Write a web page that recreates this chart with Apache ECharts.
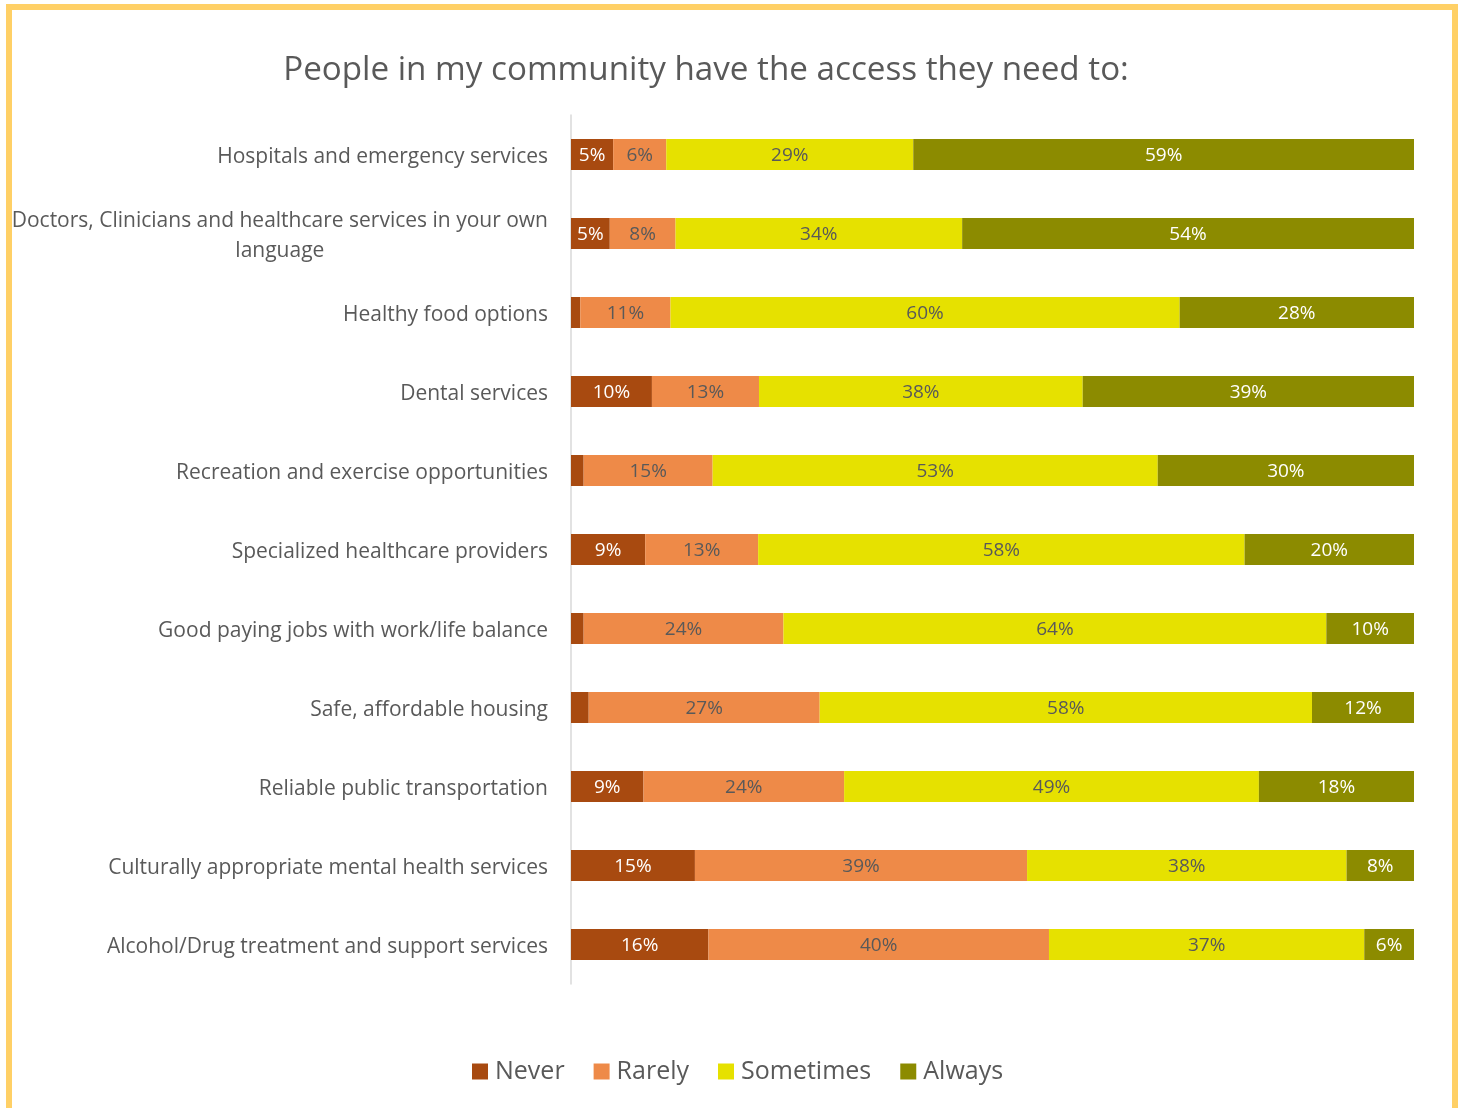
<!DOCTYPE html>
<html>
<head>
<meta charset="utf-8">
<title>People in my community have the access they need to</title>
<script src="https://cdn.jsdelivr.net/npm/echarts@6/dist/echarts.min.js"></script>
<style>
  html, body { margin: 0; padding: 0; background: #ffffff; }
  #chart { position: absolute; left: 0; top: 0; width: 1461px; height: 1108px; }
  #frame {
    position: absolute; left: 6px; top: 4px; width: 1440px; height: 1120px;
    border: 6px solid #FFD066; border-bottom: none; pointer-events: none;
  }
</style>
</head>
<body>
<div id="chart"></div>
<div id="frame"></div>
<script>
// Survey items, top to bottom
const categories = [
  'Hospitals and emergency services',
  'Doctors, Clinicians and healthcare services in your own\nlanguage',
  'Healthy food options',
  'Dental services',
  'Recreation and exercise opportunities',
  'Specialized healthcare providers',
  'Good paying jobs with work/life balance',
  'Safe, affordable housing',
  'Reliable public transportation',
  'Culturally appropriate mental health services',
  'Alcohol/Drug treatment and support services'
];

// Share of responses (%) per item
const never     = [5.0, 4.6, 1.1,  9.6,  1.5,  8.8,  1.5,  2.1,  8.6, 14.7, 16.3];
const rarely    = [6.3, 7.8, 10.7, 12.7, 15.3, 13.4, 23.7, 27.4, 23.8, 39.4, 40.4];
const sometimes = [29.3, 34.0, 60.4, 38.4, 52.8, 57.7, 64.4, 58.4, 49.2, 37.9, 37.4];
const always    = [59.4, 53.6, 27.8, 39.3, 30.4, 20.1, 10.4, 12.1, 18.4, 8.0, 5.9];

const seriesNames = ['Never', 'Rarely', 'Sometimes', 'Always'];
const seriesData = [never, rarely, sometimes, always];
const seriesColors = ['#A84A10', '#EE8A48', '#E6E100', '#8C8B00'];
const labelColors = ['#ffffff', '#595959', '#595959', '#ffffff'];

const FONT = 'Open Sans';

const chart = echarts.init(document.getElementById('chart'), null, { renderer: 'canvas' });

const series = seriesNames.map((name, i) => ({
  name: name,
  type: 'bar',
  stack: 'total',
  barWidth: 31,
  data: seriesData[i],
  itemStyle: { color: seriesColors[i] },
  label: {
    show: true,
    position: 'inside',
    offset: [0, 1],
    color: labelColors[i],
    fontFamily: FONT,
    fontSize: 19,
    formatter: p => (p.value >= 3 ? Math.round(p.value) + '%' : '')
  },
  emphasis: { disabled: true }
}));

chart.setOption({
  animation: false,
  backgroundColor: '#ffffff',
  title: {
    text: 'People in my community have the access they need to:',
    left: 701,
    textAlign: 'center',
    top: 49,
    textStyle: { color: '#595959', fontFamily: FONT, fontSize: 33.2, fontWeight: 'normal' }
  },
  legend: {
    data: seriesNames,
    top: 1054,
    left: 467,
    icon: 'rect',
    itemWidth: 16,
    itemHeight: 16,
    itemGap: 29,
    textStyle: { color: '#595959', fontFamily: FONT, fontSize: 25, padding: [0, 0, 0, 2] }
  },
  grid: { left: 571, right: 47, top: 115, height: 869, containLabel: false },
  xAxis: {
    type: 'value',
    min: 0,
    max: 100,
    show: false
  },
  yAxis: {
    type: 'category',
    inverse: true,
    data: categories,
    axisLine: { show: true, lineStyle: { color: '#D9D9D9', width: 1.5 } },
    axisTick: { show: false },
    axisLabel: {
      margin: 23,
      padding: [5, 0, 0, 0],
      color: '#595959',
      fontFamily: FONT,
      fontSize: 21,
      lineHeight: 30,
      formatter: v => v.split('\n').map(l => '{c|' + l + '}').join('\n'),
      rich: { c: { align: 'center', color: '#595959', fontFamily: FONT, fontSize: 21, lineHeight: 30 } }
    }
  },
  series: series
});
</script>
</body>
</html>
